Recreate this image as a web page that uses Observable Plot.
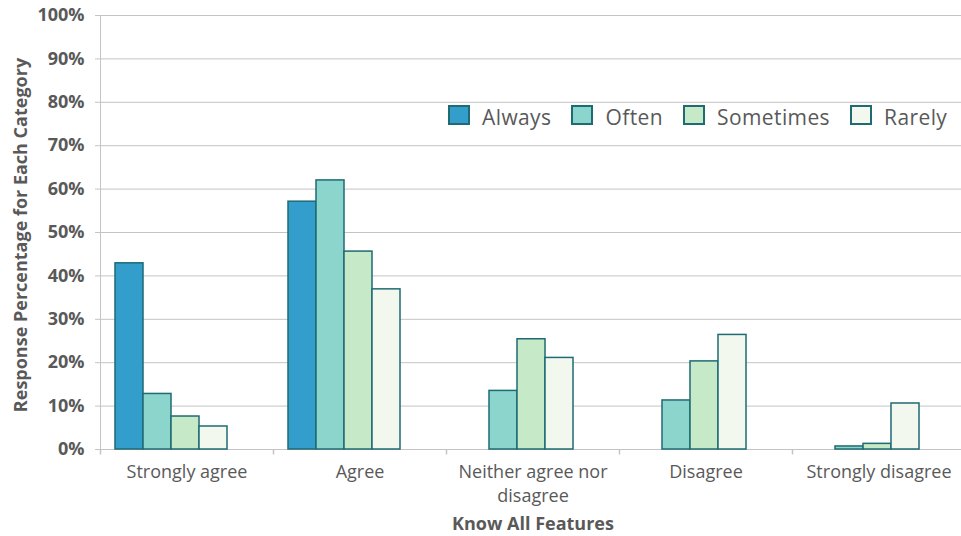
<!DOCTYPE html>
<html><head><meta charset="utf-8">
<script src="https://cdn.jsdelivr.net/npm/d3@7"></script>
<script src="https://cdn.jsdelivr.net/npm/@observablehq/plot@0.6"></script>
<style>
body{margin:0;background:#fff;font-family:"Open Sans",sans-serif;}
#wrap{position:relative;width:961px;height:536px;overflow:hidden;}
#ytitle{position:absolute;left:20px;top:235px;transform:translate(-50%,-50%) rotate(-90deg);white-space:nowrap;font-weight:700;font-size:18px;color:#595959;}
#xtitle{position:absolute;left:533px;top:523px;transform:translate(-50%,-50%);font-weight:700;font-size:18px;color:#595959;white-space:nowrap;}
#legend{position:absolute;left:448px;top:103px;display:flex;align-items:center;font-size:21px;color:#595959;letter-spacing:0.4px;}
.item{display:flex;align-items:center;margin-right:20px;}
.sw{width:18px;height:16px;border:2px solid #1e6b74;margin-right:12px;position:relative;top:-2px;}
</style></head>
<body><div id="wrap"></div>
<script>
const categories = ["Strongly agree","Agree","Neither agree nor disagree","Disagree","Strongly disagree"];
const series = ["Always","Often","Sometimes","Rarely"];
const always = [42.9, 57.1, null, null, null];
const often = [12.8, 62.0, 13.5, 11.3, 0.7];
const sometimes = [7.6, 45.6, 25.4, 20.3, 1.3];
const rarely = [5.3, 36.9, 21.1, 26.4, 10.6];
const yTicks = [0,10,20,30,40,50,60,70,80,90,100];
const colors = ["#339dcb","#8bd5cd","#c6e9c8","#f2f8ee"];
const xTitle = "Know All Features";
const yTitle = "Response Percentage for Each Category";

const seriesValues = [always, often, sometimes, rarely];
const rows = categories.flatMap((c, i) => series.map((s, j) => ({category: c, series: s, value: seriesValues[j][i]})))
  .filter(d => d.value != null);

const tickSym = {draw(ctx){ ctx.moveTo(0,0); ctx.lineTo(0,5); }};
const gridColor = "#c4c4c4";

const plot = Plot.plot({
  width: 961, height: 536,
  marginTop: 15, marginBottom: 87, marginLeft: 99, marginRight: -5,
  style: {fontFamily: "Open Sans", color: "#595959", background: "#fff"},
  fx: {domain: categories, padding: 0},
  x: {domain: series, paddingInner: 0, paddingOuter: 1, align: 0.25, axis: null},
  y: {domain: [0, 100]},
  color: {domain: series, range: colors},
  marks: [
    Plot.gridY(yTicks, {stroke: gridColor, strokeOpacity: 1}),
    Plot.frame({anchor: "left", facetAnchor: "left", stroke: gridColor, insetBottom: -4}),
    Plot.axisY(yTicks, {tickSize: 5, tickPadding: 11, stroke: gridColor, fill: "#595959", fontSize: 18, fontWeight: "bold", tickFormat: d => d + "%", label: null}),
    Plot.axisFx({anchor: "bottom", tickSize: 0, tickPadding: 11, fontSize: 18, lineWidth: 10, lineHeight: 1.35, fill: "#595959", label: null}),
    Plot.dot(categories, {fx: d => d, y: () => 0, frameAnchor: "left", symbol: tickSym, fill: "none", stroke: gridColor}),
    Plot.barY(rows, {fx: "category", x: "series", y: "value", fill: "series", stroke: "#1e6b74", strokeWidth: 1.5})
  ]
});
const wrap = document.getElementById("wrap");
wrap.appendChild(plot);

const yt = document.createElement("div"); yt.id = "ytitle"; yt.textContent = yTitle; wrap.appendChild(yt);
const xt = document.createElement("div"); xt.id = "xtitle"; xt.textContent = xTitle; wrap.appendChild(xt);
const lg = document.createElement("div"); lg.id = "legend";
series.forEach((s, i) => {
  const it = document.createElement("div"); it.className = "item";
  const sw = document.createElement("div"); sw.className = "sw"; sw.style.background = colors[i];
  const tx = document.createElement("span"); tx.textContent = s;
  it.appendChild(sw); it.appendChild(tx); lg.appendChild(it);
});
wrap.appendChild(lg);
</script>
</body></html>
